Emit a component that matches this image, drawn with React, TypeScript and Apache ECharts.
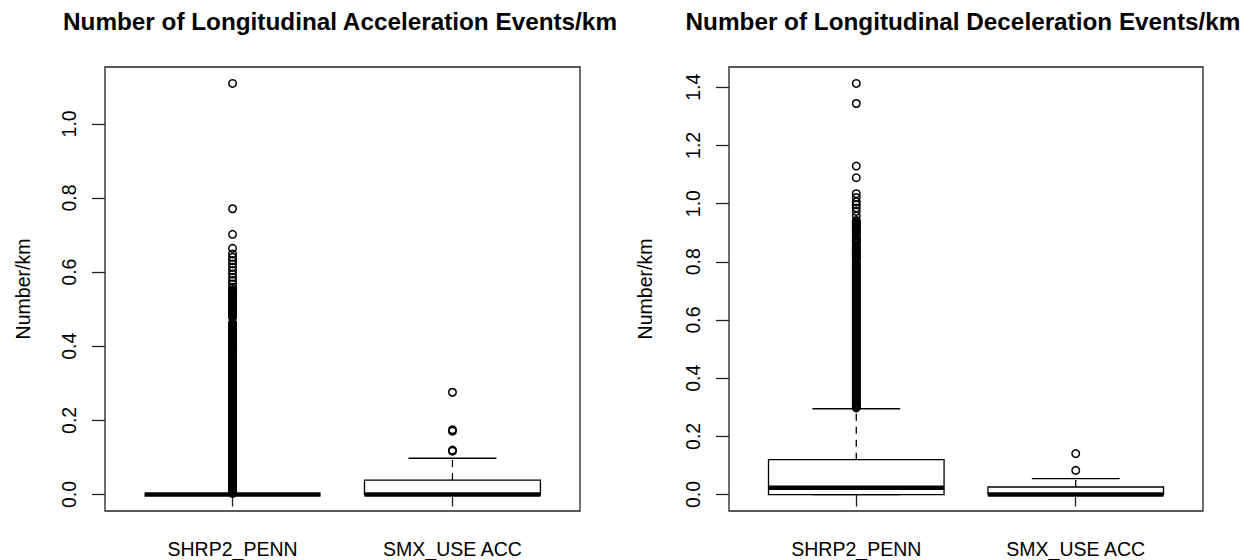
import React, { useEffect, useRef } from "react";
import * as echarts from "echarts";

const categories = ["SHRP2_PENN", "SMX_USE ACC"];
const titles = [
  "Number of Longitudinal Acceleration Events/km",
  "Number of Longitudinal Deceleration Events/km",
];
const yAxisTitle = "Number/km";
const accTicks = [0, 0.2, 0.4, 0.6, 0.8, 1.0];
const decTicks = [0, 0.2, 0.4, 0.6, 0.8, 1.0, 1.2, 1.4];

// [lower whisker, Q1, median, Q3, upper whisker]
const accBoxShrp2 = [0, 0, 0, 0, 0];
const accBoxSmx = [0, 0, 0, 0.039, 0.098];
const decBoxShrp2 = [0, 0, 0.023, 0.12, 0.295];
const decBoxSmx = [0, 0, 0, 0.026, 0.055];

const accOutShrp2 = [
  0.003, 0.006, 0.009, 0.012, 0.015, 0.018, 0.021, 0.024, 0.027, 0.030,
  0.033, 0.036, 0.039, 0.042, 0.045, 0.048, 0.051, 0.054, 0.057, 0.060,
  0.063, 0.066, 0.069, 0.072, 0.075, 0.078, 0.081, 0.084, 0.087, 0.090,
  0.093, 0.096, 0.099, 0.102, 0.105, 0.108, 0.111, 0.114, 0.117, 0.120,
  0.123, 0.126, 0.129, 0.132, 0.135, 0.138, 0.141, 0.144, 0.147, 0.150,
  0.153, 0.156, 0.159, 0.162, 0.165, 0.168, 0.171, 0.174, 0.177, 0.180,
  0.183, 0.186, 0.189, 0.192, 0.195, 0.198, 0.201, 0.204, 0.207, 0.210,
  0.213, 0.216, 0.219, 0.222, 0.225, 0.228, 0.231, 0.234, 0.237, 0.240,
  0.243, 0.246, 0.249, 0.252, 0.255, 0.258, 0.261, 0.264, 0.267, 0.270,
  0.273, 0.276, 0.279, 0.282, 0.285, 0.288, 0.291, 0.294, 0.297, 0.300,
  0.303, 0.306, 0.309, 0.312, 0.315, 0.318, 0.321, 0.324, 0.327, 0.330,
  0.333, 0.336, 0.339, 0.342, 0.345, 0.348, 0.351, 0.354, 0.357, 0.360,
  0.363, 0.366, 0.369, 0.372, 0.380, 0.383, 0.386, 0.389, 0.392, 0.395,
  0.398, 0.401, 0.404, 0.407, 0.410, 0.413, 0.416, 0.419, 0.422, 0.425,
  0.428, 0.431, 0.434, 0.437, 0.440, 0.443, 0.446, 0.449, 0.452, 0.455,
  0.458, 0.461, 0.464,
  0.478, 0.481, 0.484, 0.487, 0.490, 0.493, 0.496, 0.499, 0.502, 0.505,
  0.508, 0.511, 0.514, 0.517, 0.520, 0.523, 0.526, 0.529, 0.532, 0.535,
  0.538, 0.541, 0.544, 0.547, 0.550, 0.553,
  0.559, 0.568, 0.577, 0.586, 0.595, 0.604, 0.613, 0.622, 0.631, 0.640,
  0.649, 0.664, 0.702, 0.771, 1.109,
];
const accOutSmx = [0.117, 0.12, 0.171, 0.175, 0.276];

const decOutShrp2 = [
  0.298, 0.302, 0.306, 0.310, 0.314, 0.318, 0.322, 0.326, 0.330, 0.334,
  0.338, 0.342, 0.346, 0.350, 0.354, 0.358, 0.362, 0.366, 0.370, 0.374,
  0.378, 0.382, 0.386, 0.390, 0.394, 0.398, 0.402, 0.406, 0.410, 0.414,
  0.418, 0.422, 0.426, 0.430, 0.434, 0.438, 0.442, 0.446, 0.450, 0.454,
  0.458, 0.462, 0.466, 0.470, 0.474, 0.478, 0.482, 0.486, 0.490, 0.494,
  0.498, 0.502, 0.506, 0.510, 0.514, 0.518, 0.522, 0.526, 0.530, 0.534,
  0.538, 0.542, 0.546, 0.550, 0.554, 0.558, 0.562, 0.566, 0.570, 0.574,
  0.578, 0.582, 0.586, 0.590, 0.594, 0.598, 0.602, 0.606, 0.610, 0.614,
  0.618, 0.622, 0.626, 0.630, 0.634, 0.638, 0.642, 0.646, 0.650, 0.654,
  0.658, 0.662, 0.666, 0.670, 0.674, 0.678, 0.682, 0.686, 0.690, 0.694,
  0.698, 0.702, 0.706, 0.710, 0.714, 0.718, 0.722, 0.726, 0.730, 0.734,
  0.738, 0.742, 0.746, 0.750, 0.754, 0.758, 0.762, 0.766, 0.770, 0.774,
  0.778, 0.782, 0.786, 0.790, 0.794,
  0.803, 0.810, 0.814, 0.818, 0.822, 0.826, 0.830, 0.834, 0.838, 0.842,
  0.846, 0.850, 0.857, 0.864, 0.868, 0.872, 0.876, 0.880, 0.884, 0.891,
  0.898, 0.902, 0.906, 0.910, 0.914, 0.918, 0.922, 0.926, 0.930, 0.934,
  0.938, 0.942, 0.958, 0.973, 0.985, 0.996, 1.006, 1.021, 1.034, 1.089,
  1.129, 1.344, 1.413,
];
const decOutSmx = [0.083, 0.141];

const FONT = '"Liberation Sans", Arial, Helvetica, sans-serif';
const BASE = 19.5;

function yRange(all: number[]) {
  const mx = Math.max(...all);
  const mn = Math.min(...all);
  const pad = (mx - mn) * 0.04;
  return [mn - pad, mx + pad];
}

function renderBox(params: any, api: any) {
  const x = api.value(0);
  const lo = api.value(1), q1 = api.value(2), med = api.value(3), q3 = api.value(4), hi = api.value(5);
  const hw = api.size([0.8, 0])[0] / 2;
  const cx = api.coord([x, 0])[0];
  const y = (v: number) => api.coord([x, v])[1];
  const stroke = "#000";
  const lw = 1.3;
  return {
    type: "group",
    children: [
      { type: "line", shape: { x1: cx, y1: y(q3), x2: cx, y2: y(hi) }, style: { stroke, lineWidth: lw, lineDash: [7, 6] } },
      { type: "line", shape: { x1: cx, y1: y(q1), x2: cx, y2: y(lo) }, style: { stroke, lineWidth: lw, lineDash: [7, 6] } },
      { type: "line", shape: { x1: cx - hw / 2, y1: y(hi), x2: cx + hw / 2, y2: y(hi) }, style: { stroke, lineWidth: lw } },
      { type: "line", shape: { x1: cx - hw / 2, y1: y(lo), x2: cx + hw / 2, y2: y(lo) }, style: { stroke, lineWidth: lw } },
      { type: "rect", shape: { x: cx - hw, y: y(q3), width: 2 * hw, height: y(q1) - y(q3) }, style: { fill: "none", stroke, lineWidth: lw } },
      { type: "line", shape: { x1: cx - hw, y1: y(med), x2: cx + hw, y2: y(med) }, style: { stroke, lineWidth: 4.5 } },
    ],
  };
}

export default function App() {
  const ref = useRef<HTMLDivElement>(null);
  useEffect(() => {
    document.body.style.margin = "0";
    if (!ref.current) return;
    const chart = echarts.init(ref.current, null, { renderer: "svg" });
    const accRange = yRange([...accBoxShrp2, ...accBoxSmx, ...accOutShrp2, ...accOutSmx]);
    const decRange = yRange([...decBoxShrp2, ...decBoxSmx, ...decOutShrp2, ...decOutSmx]);
    const grids = [
      { left: 105, top: 67, width: 475, height: 444 },
      { left: 729, top: 67, width: 474, height: 444 },
    ];
    const ranges = [accRange, decRange];
    const ticks = [accTicks, decTicks];
    const panels = [
      { boxes: [accBoxShrp2, accBoxSmx], outs: [accOutShrp2, accOutSmx] },
      { boxes: [decBoxShrp2, decBoxSmx], outs: [decOutShrp2, decOutSmx] },
    ];
    const series: any[] = [];
    panels.forEach((p, i) => {
      series.push({
        type: "custom",
        xAxisIndex: i,
        yAxisIndex: i,
        renderItem: renderBox,
        encode: { x: 0, y: [1, 2, 3, 4, 5] },
        data: p.boxes.map((b, k) => [k + 1, ...b]),
        clip: false,
        silent: true,
      });
      p.outs.forEach((arr, k) => {
        series.push({
          type: "scatter",
          xAxisIndex: i,
          yAxisIndex: i,
          symbol: "circle",
          symbolSize: 7.5,
          itemStyle: { color: "rgba(0,0,0,0)", borderColor: "#000", borderWidth: 1.5, opacity: 1 },
          data: arr.map((v) => [k + 1, v]),
          silent: true,
        });
      });
    });
    const option: any = {
      animation: false,
      backgroundColor: "#fff",
      grid: grids.map((g) => ({ ...g, show: true, borderColor: "#222", borderWidth: 1.3, backgroundColor: "transparent" })),
      xAxis: grids.map((_, i) => ({
        type: "value",
        gridIndex: i,
        min: 0.42,
        max: 2.58,
        axisLine: { show: false },
        splitLine: { show: false },
        axisTick: { show: true, length: 12, customValues: [1, 2], lineStyle: { color: "#222", width: 1.3 } },
        axisLabel: {
          customValues: [1, 2],
          margin: 28,
          fontSize: BASE,
          fontFamily: FONT,
          color: "#000",
          formatter: (v: number) => categories[Math.round(v) - 1] ?? "",
        },
      })),
      yAxis: grids.map((_, i) => ({
        type: "value",
        gridIndex: i,
        min: ranges[i][0],
        max: ranges[i][1],
        axisLine: { show: false },
        splitLine: { show: false },
        axisTick: { show: true, length: 13, customValues: ticks[i], lineStyle: { color: "#222", width: 1.3 } },
        axisLabel: {
          customValues: ticks[i],
          rotate: 90,
          margin: 26,
          fontSize: BASE,
          fontFamily: FONT,
          color: "#000",
          formatter: (v: number) => v.toFixed(1),
        },
      })),
      graphic: [
        { type: "text", x: 340, y: 21, style: { text: titles[0], font: `bold 24.3px ${FONT}`, fill: "#000", align: "center", verticalAlign: "middle" } },
        { type: "text", x: 963, y: 21, style: { text: titles[1], font: `bold 24.3px ${FONT}`, fill: "#000", align: "center", verticalAlign: "middle" } },
        { type: "text", x: 22.5, y: 289, rotation: Math.PI / 2, style: { text: yAxisTitle, font: `${BASE}px ${FONT}`, fill: "#000", align: "center", verticalAlign: "middle" } },
        { type: "text", x: 645, y: 289, rotation: Math.PI / 2, style: { text: yAxisTitle, font: `${BASE}px ${FONT}`, fill: "#000", align: "center", verticalAlign: "middle" } },
      ],
      series,
    };
    chart.setOption(option);
    return () => chart.dispose();
  }, []);
  return <div ref={ref} style={{ width: 1252, height: 560 }} />;
}
